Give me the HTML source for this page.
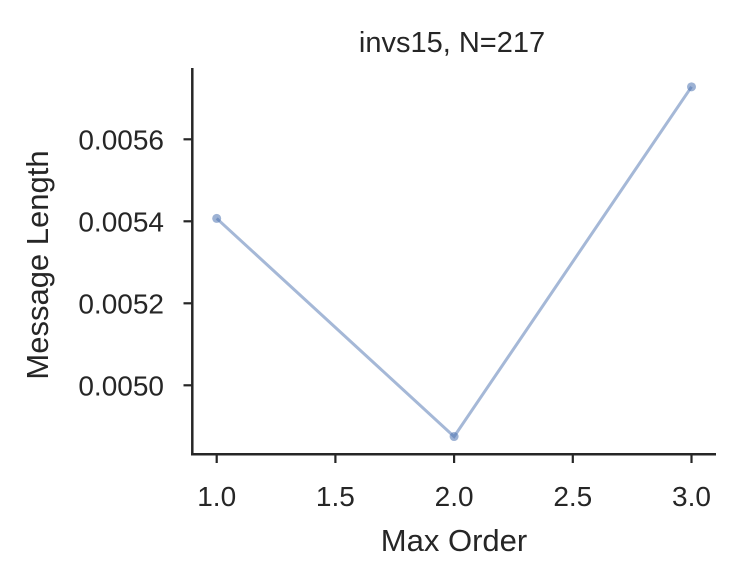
<!DOCTYPE html>
<html><head><meta charset="utf-8"><style>
body{margin:0;background:#fff;}
svg{display:block;font-family:"Liberation Sans","DejaVu Sans",sans-serif;}
</style></head><body>
<svg id="chart" width="740" height="582" viewBox="0 0 740 582">
<text x="452" y="52" font-size="29" text-anchor="middle" fill="#262626">invs15, N=217</text>
<g id="axes"></g>
<g id="series"></g>
<text x="454" y="551" font-size="31" text-anchor="middle" fill="#262626">Max Order</text>
<text transform="translate(48,265) rotate(-90)" font-size="31" text-anchor="middle" fill="#262626">Message Length</text>
</svg>
<script>
const xValues = [1.0, 2.0, 3.0];
const yValues = [0.005407, 0.004875, 0.005728];
const xTicks = [1.0, 1.5, 2.0, 2.5, 3.0];
const xTickLabels = ["1.0", "1.5", "2.0", "2.5", "3.0"];
const yTicks = [0.0050, 0.0052, 0.0054, 0.0056];
const yTickLabels = ["0.0050", "0.0052", "0.0054", "0.0056"];

const NS = "http://www.w3.org/2000/svg";
function xs(v){ return 216.7 + (v - 1) * 237.4; }
function ys(v){ return 139.3 + (0.0056 - v) / 0.0002 * 82; }
function mk(tag, attrs, parent){
  const e = document.createElementNS(NS, tag);
  for (const k in attrs) e.setAttribute(k, attrs[k]);
  parent.appendChild(e); return e;
}
const axes = document.getElementById('axes');
const ySpine = mk('line', {x1:192.3, y1:68, x2:192.3, y2:455.5, stroke:'#262626', 'stroke-width':2.5}, axes);


const xSpine = mk('line', {x1:191, y1:454.3, x2:716, y2:454.3, stroke:'#262626', 'stroke-width':2.5}, axes);


xTicks.forEach((t, i) => {
  const x = xs(t);
  const tk = mk('line', {x1:x, y1:454.3, x2:x, y2:463, stroke:'#262626', 'stroke-width':2.2}, axes);
  
  
  const lb = mk('text', {x:x, y:506, 'font-size':28, 'text-anchor':'middle', fill:'#262626'}, axes);
  lb.textContent = xTickLabels[i];
  
  
});
yTicks.forEach((t, i) => {
  const y = ys(t);
  const tk = mk('line', {x1:183.5, y1:y, x2:192.3, y2:y, stroke:'#262626', 'stroke-width':2.2}, axes);
  
  
  const lb = mk('text', {x:164, y:y + 10, 'font-size':28, 'text-anchor':'end', fill:'#262626'}, axes);
  lb.textContent = yTickLabels[i];
  
  
});
const series = document.getElementById('series');
const pts = xValues.map((v, i) => xs(v) + ',' + ys(yValues[i])).join(' ');
const line = mk('polyline', {points:pts, fill:'none', stroke:'#4c72b0', 'stroke-opacity':0.5, 'stroke-width':3}, series);


xValues.forEach((v, i) => {
  const c = mk('circle', {cx:xs(v), cy:ys(yValues[i]), r:4.5, fill:'#4c72b0', 'fill-opacity':0.55}, series);
  
  
});
</script>
</body></html>
